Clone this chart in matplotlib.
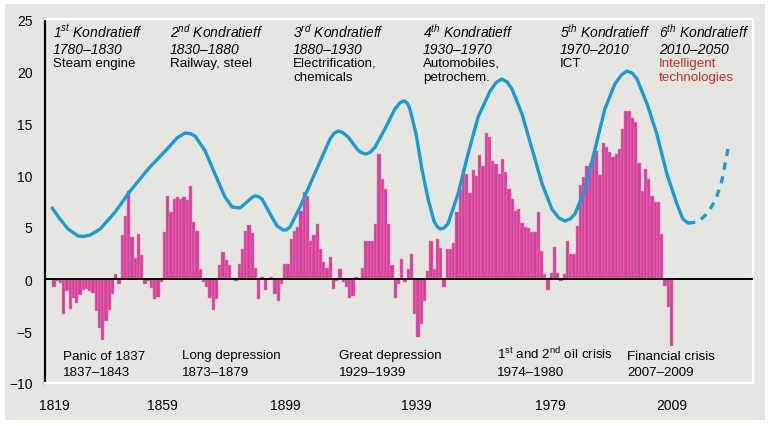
import matplotlib.pyplot as plt
from matplotlib.patches import Rectangle

plt.rcParams['font.family'] = ['Liberation Sans', 'DejaVu Sans']

# yearly bars, 1819-2009
bar_years = list(range(1819, 2010))
bar_values = [
    -0.8, -0.2, -0.4, -3.4, -1.2, -2.9, -1.8, -2.3, -1.5, -1.1,
    -1.0, -1.2, -1.3, -3.1, -4.7, -5.9, -4.0, -3.0, -1.4, 0.5,
    -0.5, 4.2, 6.1, 8.5, 4.0, 2.0, 4.3, 2.3, -0.5, -0.2,
    -0.9, -1.9, -1.7, -0.3, 4.5, 8.0, 6.4, 7.7, 7.9, 7.7,
    7.9, 7.6, 8.9, 5.5, 4.6, 1.0, -0.3, -0.8, -1.8, -3.0,
    -1.9, 1.3, 2.6, 1.8, 1.3, 0.1, -0.2, 1.4, 2.9, 4.6,
    5.2, 4.4, 1.1, -1.9, 0.2, -1.1, -0.1, 0.2, -1.4, -2.1,
    -0.5, 1.4, 1.4, 3.8, 4.6, 5.0, 6.5, 8.4, 8.0, 3.7,
    4.2, 5.3, 2.9, 1.6, 1.1, 2.1, -1.0, -0.2, 1.0, -0.3,
    -0.8, -1.8, -1.6, 0.2, 0.1, 1.1, 3.7, 3.7, 3.7, 5.3,
    12.0, 9.6, 8.7, 5.3, 1.3, -1.8, -0.5, 1.9, -0.3, 1.0,
    2.4, -3.4, -5.6, -4.3, -2.1, 0.8, 3.7, 1.0, 3.8, 3.0,
    -0.8, 2.9, 2.9, 3.5, 6.4, 8.7, 10.6, 10.1, 8.3, 10.5,
    9.9, 11.9, 10.9, 14.0, 13.7, 11.3, 11.1, 10.1, 11.5, 10.3,
    8.7, 7.7, 6.5, 6.7, 5.4, 5.0, 4.9, 4.5, 4.5, 6.4,
    2.7, 0.5, -1.1, 0.6, 3.1, 0.6, -0.2, 0.5, 3.7, 2.4,
    2.4, 5.1, 9.0, 9.8, 10.9, 11.2, 11.9, 12.3, 10.0, 13.1,
    12.7, 12.2, 11.7, 12.0, 12.5, 14.4, 16.2, 16.2, 15.5, 15.1,
    11.2, 8.5, 10.6, 9.6, 8.0, 7.4, 7.4, 4.3, -0.7, -2.7,
    -6.4,
]

# long wave curve
wave_years = [
    1818.4, 1820.8, 1823.3, 1826.4, 1828.2, 1830.1, 1833.2, 1837.8, 1842.4, 1848.5,
    1853.8, 1856.8, 1859.3, 1861.0, 1862.4, 1865.5, 1868.5, 1871.6, 1873.8, 1876.2,
    1878.7, 1879.8, 1880.8, 1881.9, 1883.0, 1885.5, 1887.6, 1889.5, 1890.5, 1891.6,
    1894.7, 1897.8, 1900.8, 1903.9, 1905.2, 1906.4, 1907.8, 1909.5, 1912.5, 1913.8,
    1915.0, 1916.3, 1917.8, 1920.8, 1923.9, 1925.5, 1926.7, 1927.7, 1928.5, 1930.4,
    1932.2, 1934.1, 1935.9, 1936.9, 1937.8, 1938.9, 1940.2, 1943.3, 1946.4, 1949.5,
    1953.2, 1955.1, 1956.8, 1958.4, 1959.9, 1963.0, 1966.1, 1969.2, 1972.2, 1974.3,
    1976.2, 1977.8, 1979.3, 1982.4, 1985.5, 1988.5, 1991.6, 1993.6, 1995.3, 1996.9,
    1998.4, 2001.5, 2004.5, 2007.6, 2010.7, 2012.5, 2014.1,
]
wave_values = [
    6.83, 5.77, 4.81, 4.13, 4.10, 4.23, 4.81, 6.44, 8.46, 10.77,
    12.5, 13.55, 14.04, 13.97, 13.75, 12.31, 10.10, 7.88, 6.92, 6.83,
    7.5, 7.82, 7.98, 7.92, 7.69, 6.25, 5.10, 4.71, 4.72, 5.0,
    6.92, 9.13, 11.25, 13.46, 14.02, 14.23, 14.08, 13.65, 12.40, 12.12,
    12.02, 12.18, 12.69, 14.42, 16.35, 16.95, 17.12, 16.92, 16.35, 13.94,
    10.58, 7.69, 5.58, 5.05, 4.81, 4.88, 5.29, 8.17, 12.02, 15.58,
    18.08, 18.90, 19.23, 18.95, 18.27, 15.87, 12.5, 9.13, 6.73, 5.88,
    5.58, 5.76, 6.25, 8.65, 12.5, 16.35, 18.75, 19.62, 20.0, 19.80,
    19.23, 16.83, 13.94, 10.10, 7.21, 5.77, 5.38,
]
forecast_years = [2014.1, 2017.2, 2020.2, 2022.7, 2024.5, 2026.4]
forecast_values = [5.38, 5.48, 6.35, 7.69, 9.42, 12.5]

tick_pos = [1819, 1852.2, 1890.1, 1930.6, 1971.6, 2009]
tick_labels = ['1819', '1859', '1899', '1939', '1979', '2009']

k_titles = ['1$^{\\mathregular{st}}$ Kondratieff', '2$^{\\mathregular{nd}}$ Kondratieff',
            '3$^{\\mathregular{rd}}$ Kondratieff', '4$^{\\mathregular{th}}$ Kondratieff',
            '5$^{\\mathregular{th}}$ Kondratieff', '6$^{\\mathregular{th}}$ Kondratieff']
k_periods = ['1780–1830', '1830–1880', '1880–1930', '1930–1970', '1970–2010', '2010–2050']
k_tech = ['Steam engine', 'Railway, steel', 'Electrification,\nchemicals',
          'Automobiles,\npetrochem.', 'ICT', 'Intelligent\ntechnologies']

crisis_names = ['Panic of 1837', 'Long depression', 'Great depression',
                '1$^{\\mathregular{st}}$ and 2$^{\\mathregular{nd}}$ oil crisis', 'Financial crisis']
crisis_periods = ['1837–1843', '1873–1879', '1929–1939', '1974–1980', '2007–2009']

W, H = 771, 427
BG = '#e6e6e1'
PINK = '#d6409a'
BLUE = '#1b9bd1'

fig = plt.figure(figsize=(W / 100, H / 100), dpi=100, facecolor='white')
fig.patches.append(Rectangle((5 / W, 6 / H), 760 / W, 416 / H, transform=fig.transFigure,
                             facecolor=BG, edgecolor='none', zorder=-1))

ax = fig.add_axes([45 / W, 1 - 384 / H, 708 / W, 364 / H], facecolor=BG)
ax.set_zorder(1)
ax.bar(bar_years, bar_values, width=1.0, color=PINK, edgecolor='#e583bd', linewidth=0.35, zorder=2)
ax.axhline(0, color='black', lw=1.4, zorder=3)
ax.plot(wave_years, wave_values, color=BLUE, lw=2.4, solid_capstyle='round',
        solid_joinstyle='round', zorder=4)
ax.plot(forecast_years, forecast_values, color=BLUE, lw=2.4, linestyle=(0, (2.2, 2.0)), zorder=4)

ax.set_xlim(1816.2, 2034.1)
ax.set_ylim(-10, 25)
ax.set_yticks(range(-10, 26, 5))
ax.set_xticks(tick_pos)
ax.set_xticklabels(tick_labels)
ax.tick_params(axis='both', length=0, labelsize=10, colors='black')
ax.tick_params(axis='y', pad=9)
ax.tick_params(axis='x', pad=11)

for side in ['top', 'right', 'bottom']:
    ax.spines[side].set_color('white')
    ax.spines[side].set_linewidth(1.6)
ax.spines['left'].set_color('black')
ax.spines['left'].set_linewidth(1.6)


def px(x, y):
    return x / W, 1 - y / H


k_x = [53, 170, 293, 423, 560, 659]
for i in range(6):
    fig.text(*px(k_x[i], 37.5), k_titles[i], fontsize=10, style='italic', va='baseline', zorder=5)
    fig.text(*px(k_x[i], 53.5), k_periods[i], fontsize=10, style='italic', va='baseline', zorder=5)
    col = '#d42a2a' if i == 5 else 'black'
    fig.text(*px(k_x[i], 58), k_tech[i], fontsize=9.6, color=col, va='top', linespacing=1.25, zorder=5)

c_x = [63, 182, 339, 497, 627]
for i in range(5):
    fig.text(*px(c_x[i], 359.5), crisis_names[i], fontsize=9.6, va='baseline', zorder=5)
    fig.text(*px(c_x[i], 376), crisis_periods[i], fontsize=9.6, va='baseline', zorder=5)

fig.savefig('out.png', dpi=100, facecolor='white')
